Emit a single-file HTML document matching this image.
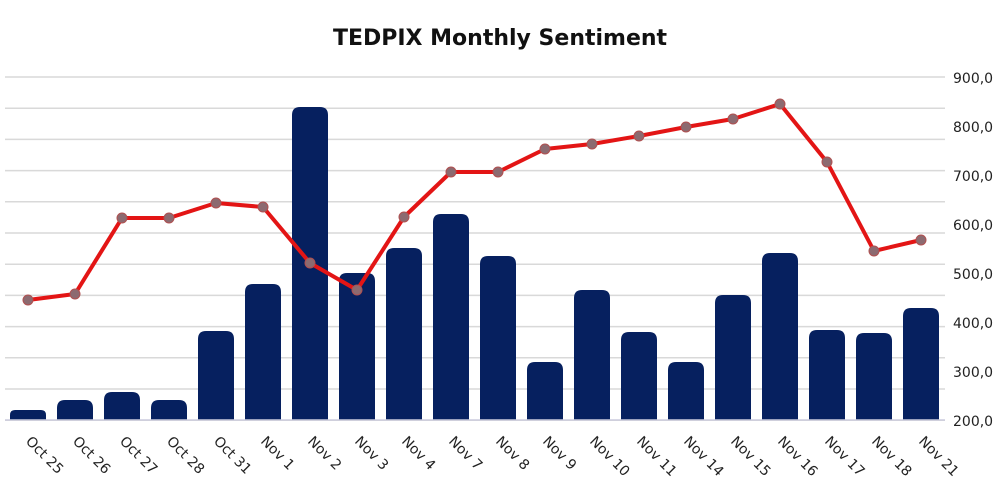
<!DOCTYPE html>
<html><head><meta charset="utf-8"><style>body{margin:0;background:#fff}svg{display:block}</style></head><body>
<svg width="1000" height="500" xmlns="http://www.w3.org/2000/svg" font-family="DejaVu Sans, Liberation Sans, sans-serif">
<text x="500" y="45" text-anchor="middle" font-size="22" font-weight="bold" fill="#111">TEDPIX Monthly Sentiment</text>
<g stroke="#d9d9d9" stroke-width="1.5" id="grid"></g>
<g id="bars" fill="#06205f"></g>
<line x1="5" y1="420" x2="945" y2="420" stroke="#ccd" stroke-width="1.5"/>
<polyline id="ln" fill="none" stroke="#e31515" stroke-width="4" stroke-linejoin="round"/>
<g id="mk" fill="#8c6a70" stroke="#b05050" stroke-width="1"></g>
<g id="yl" font-size="14" fill="#222"></g>
<g id="xl" font-size="14" fill="#222"></g>
</svg>
<script>
const ns="http://www.w3.org/2000/svg";
function el(p,t,a,txt){const e=document.createElementNS(ns,t);for(const k in a)e.setAttribute(k,a[k]);if(txt)e.textContent=txt;document.getElementById(p).appendChild(e);}
for(let i=0;i<12;i++){const y=77+i*31.2;el("grid","line",{x1:5,x2:945,y1:y,y2:y});}
const yv=[900,800,700,600,500,400,300,200];
yv.forEach((v,i)=>el("yl","text",{x:953,y:83+i*49},v+",0"));
const labs=["Oct 25","Oct 26","Oct 27","Oct 28","Oct 31","Nov 1","Nov 2","Nov 3","Nov 4","Nov 7","Nov 8","Nov 9","Nov 10","Nov 11","Nov 14","Nov 15","Nov 16","Nov 17","Nov 18","Nov 21"];
const tops=[410,400,392,400,331,284,107,273,248,214,256,362,290,332,362,295,253,330,333,308];
const ly=[300,294,218,218,203,207,263,290,217,172,172,149,144,136,127,119,104,162,251,240];
let pts=[];
labs.forEach((l,i)=>{const c=28+i*47;const h=420-tops[i];const r=Math.min(8,h/2);
el("bars","path",{d:`M${c-18} 420 V${tops[i]+r} Q${c-18} ${tops[i]} ${c-18+r} ${tops[i]} H${c+18-r} Q${c+18} ${tops[i]} ${c+18} ${tops[i]+r} V420 Z`});
pts.push(c+","+ly[i]);el("mk","circle",{cx:c,cy:ly[i],r:5});
el("xl","text",{x:0,y:0,transform:`translate(${c-3},${442}) rotate(45)`},l);});
document.getElementById("ln").setAttribute("points",pts.join(" "));
</script>
</body></html>
